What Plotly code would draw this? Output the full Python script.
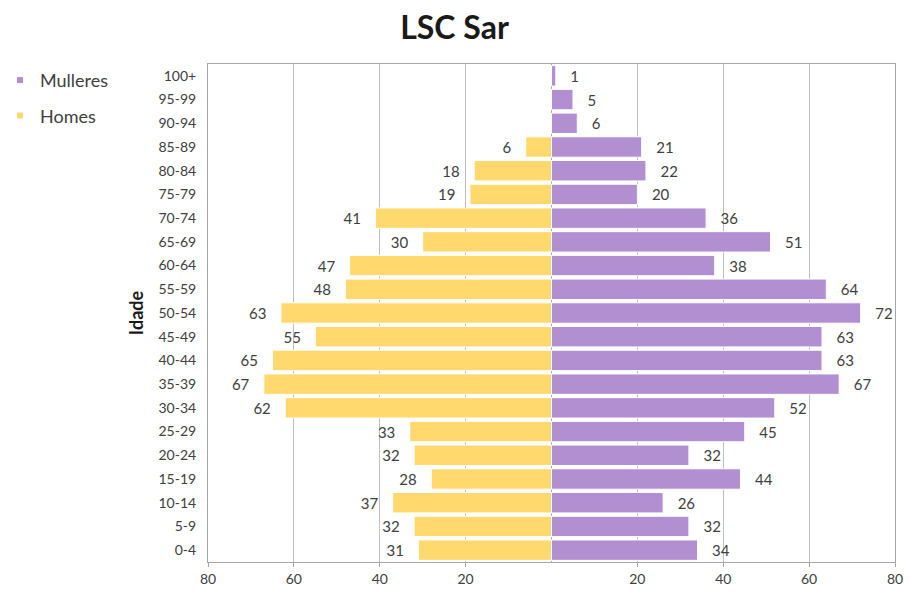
import plotly.graph_objects as go

categories = ["0-4", "5-9", "10-14", "15-19", "20-24", "25-29", "30-34", "35-39",
              "40-44", "45-49", "50-54", "55-59", "60-64", "65-69", "70-74",
              "75-79", "80-84", "85-89", "90-94", "95-99", "100+"]
homes = [31, 32, 37, 28, 32, 33, 62, 67, 65, 55, 63, 48, 47, 30, 41, 19, 18, 6, 0, 0, 0]
mulleres = [34, 32, 26, 44, 32, 45, 52, 67, 63, 63, 72, 64, 38, 51, 36, 20, 22, 21, 6, 5, 1]
tick_vals = [-80, -60, -40, -20, 20, 40, 60, 80]
tick_text = ["80", "60", "40", "20", "20", "40", "60", "80"]

FONT = "Lato, Carlito, 'Open Sans', sans-serif"
YELLOW = "#FFD96E"
PURPLE = "#B18FD0"
TXT = "#404040"
NB = "\u00a0"

fig = go.Figure()
fig.add_trace(go.Bar(
    y=categories, x=mulleres, orientation="h", name="Mulleres",
    marker=dict(color=PURPLE, line=dict(width=1, color="white")),
    text=[NB * 3 + str(v) if v else "" for v in mulleres],
    textposition="outside", textfont=dict(size=15, color=TXT, family=FONT),
    cliponaxis=False, hoverinfo="skip", showlegend=False, legendgroup="m",
))
fig.add_trace(go.Bar(
    y=categories, x=[-v for v in homes], orientation="h", name="Homes",
    marker=dict(color=YELLOW, line=dict(width=1, color="white")),
    text=[str(v) + NB * 3 if v else "" for v in homes],
    textposition="outside", textfont=dict(size=15, color=TXT, family=FONT),
    cliponaxis=False, hoverinfo="skip", showlegend=False, legendgroup="h",
))
# legend entries with small square swatches
fig.add_trace(go.Scatter(x=[None], y=[None], mode="markers", name="Mulleres",
                         marker=dict(symbol="square", size=6, color=PURPLE),
                         legendgroup="m", showlegend=True))
fig.add_trace(go.Scatter(x=[None], y=[None], mode="markers", name="Homes",
                         marker=dict(symbol="square", size=6, color=YELLOW),
                         legendgroup="h", showlegend=True))

fig.update_layout(
    width=909, height=595,
    margin=dict(l=208, r=14, t=64, b=33, autoexpand=False),
    paper_bgcolor="white", plot_bgcolor="white",
    barmode="overlay", bargap=0.14,
    title=dict(text="<b>LSC Sar</b>", x=0.5, xanchor="center",
               y=0.953, yanchor="middle", yref="container",
               font=dict(size=32, color="#1a1a1a", family=FONT)),
    font=dict(family=FONT, color=TXT, size=14),
    showlegend=True,
    legend=dict(xref="container", yref="container", x=0.0, y=0.896,
                xanchor="left", yanchor="top",
                font=dict(size=18, color=TXT, family=FONT),
                traceorder="grouped", itemwidth=30, tracegroupgap=9,
                bgcolor="rgba(0,0,0,0)"),
)
fig.update_xaxes(
    range=[-80, 80], tickvals=tick_vals, ticktext=tick_text,
    showgrid=True, gridcolor="#BFBFBF", gridwidth=1,
    zeroline=True, zerolinecolor="#A6A6A6", zerolinewidth=1,
    showline=True, linecolor="#A6A6A6", linewidth=1, mirror=True,
    ticks="outside", ticklen=4, tickcolor="#A6A6A6",
    tickfont=dict(size=14, color=TXT, family=FONT),
    layer="above traces", fixedrange=True, automargin=False,
)
fig.update_yaxes(
    categoryorder="array", categoryarray=categories,
    showgrid=False, showline=True, linecolor="#A6A6A6", linewidth=1, mirror=True,
    ticks="", ticklabelstandoff=8, automargin=False,
    tickfont=dict(size=14, color=TXT, family=FONT),
    title=dict(text="<b>Idade</b>", font=dict(size=18, color="#1a1a1a", family=FONT), standoff=10),
    fixedrange=True,
)

fig.write_html("out.html", config={"displayModeBar": False},
               post_script="document.body.style.margin='0px';document.body.style.padding='0px';")
